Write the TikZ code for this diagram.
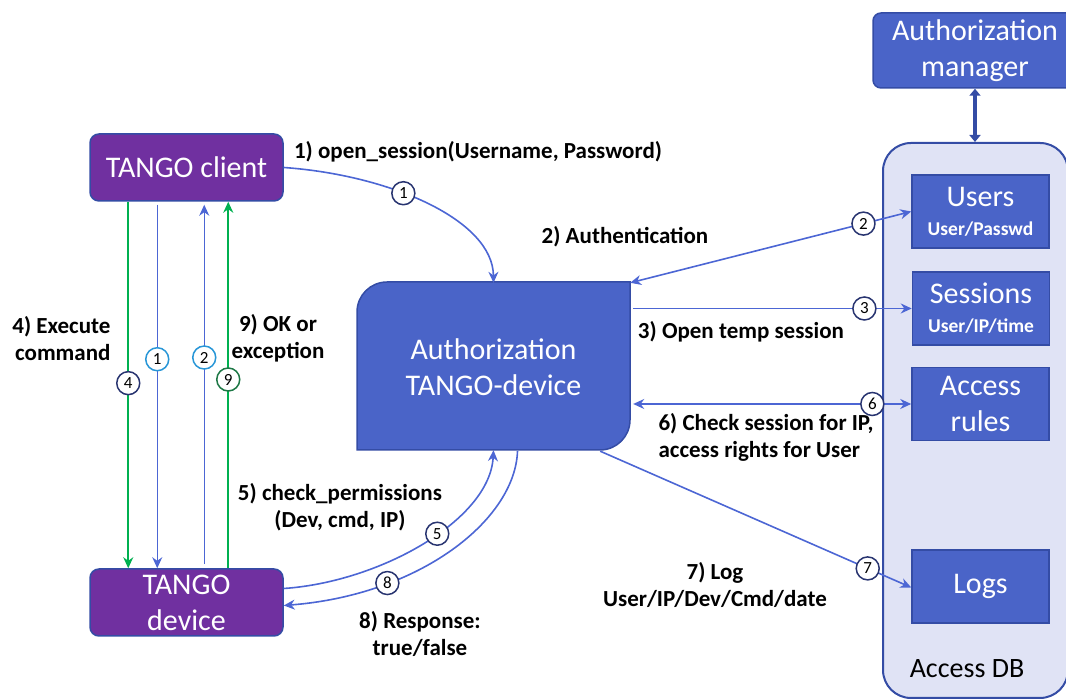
\documentclass[tikz,border=0pt]{standalone}
\usepackage{fontspec}
\setmainfont{Carlito}
\usetikzlibrary{arrows.meta,positioning,calc}
\definecolor{tangodev}{RGB}{112,48,160}
\definecolor{authfill}{RGB}{74,100,200}
\definecolor{authedge}{RGB}{52,76,165}
\definecolor{dbfill}{RGB}{224,227,245}
\definecolor{arrowblue}{RGB}{76,102,212}
\definecolor{okgreen}{RGB}{0,176,80}
\definecolor{navy}{RGB}{40,52,112}
\definecolor{sky}{RGB}{40,150,215}
\definecolor{darkgreen}{RGB}{30,120,70}
\tikzset{
 box/.style={draw=authedge, fill=authfill, line width=1.5pt, text=white, align=center,
             inner sep=0pt, font=\fontsize{30}{36}\selectfont},
 tango/.style={box, fill=tangodev, rounded corners=9pt, minimum width=193pt, minimum height=67pt},
 dbbox/.style={box, minimum width=137pt, minimum height=73pt},
 flow/.style={draw=arrowblue, line width=1.6pt, ->},
 thin flow/.style={draw=arrowblue, line width=1.2pt, ->},
 gflow/.style={draw=okgreen, line width=2.2pt, ->},
 lbl/.style={font=\bfseries\fontsize{23}{27}\selectfont, align=center},
 num/.style={circle, draw=navy, fill=white, line width=1.5pt, inner sep=0pt,
             minimum size=23pt, font=\fontsize{17}{17}\selectfont}
}

\begin{document}
\begin{tikzpicture}[x=1pt, y=1pt, >={Stealth[length=11pt,width=10pt]}]

\useasboundingbox (0,0) rectangle (1066,700);
\clip (0,0) rectangle (1066,700);

% access database
\node[draw=authedge, fill=dbfill, line width=2pt, rounded corners=28pt,
      minimum width=185pt, minimum height=555pt] (accessdb) at (975.5,279.5) {};
\node[font=\fontsize{28}{32}\selectfont] (dblabel) at (967,31) {Access DB};
\node[box, rounded corners=8pt, minimum width=204pt, minimum height=75pt] (manager) at (975,649.5) {Authorization\\manager};

\node[dbbox] (users) at (980.5,488.5) {Users\\[-7pt]{\bfseries\fontsize{19.5}{21}\selectfont User/Passwd}};
\node[dbbox] (sessions) at (981,391.5) {Sessions\\[-7pt]{\bfseries\fontsize{19.5}{21}\selectfont User/IP/time}};
\node[dbbox] (rules) at (980.5,296) {Access\\rules};
\node[dbbox] (logs) at (980.5,113.5) {Logs};

\draw[line width=3.5pt, draw=authedge, {Triangle[length=7pt,width=11pt]}-{Triangle[length=7pt,width=11pt]}]
  (manager.south) -- (manager.south |- accessdb.north);

% authorization device
\draw[box] (357,250) -- (357,388) arc[start angle=180,end angle=90,radius=30]
  -- (630,418) -- (630,280) arc[start angle=0,end angle=-90,radius=30] -- cycle;
\node[text=white, align=center, font=\fontsize{30}{36}\selectfont, minimum width=273pt,
      minimum height=168pt, inner sep=0pt] (auth) at (493.5,333) {Authorization\\TANGO-device};

% tango client and device
\node[tango] (client) at (186.5,532.5) {TANGO client};
\node[tango] (device) at (186.5,97.5) {TANGO\\device};

\draw[gflow] ([xshift=39pt]client.south west) -- node[num, pos=.495] (n4) {4} ([xshift=39pt]device.north west);
\draw[thin flow] ([xshift=68pt,yshift=-3pt]client.south west) -- node[num, draw=sky, pos=.425] (n1a) {1} ([xshift=68pt]device.north west);
\draw[thin flow] ([xshift=115pt,yshift=4pt]device.north west) -- node[num, draw=sky, pos=.575] (n2a) {2} ([xshift=115pt,yshift=-3pt]client.south west);
\draw[gflow] ([xshift=139pt]device.north west) -- node[num, draw=darkgreen, pos=.515] (n9) {9} ([xshift=139pt]client.south west);

\node[lbl, align=right, anchor=east] (execute) at (114,361.5) {4) Execute\\command};
\node[lbl] (okexc) at (278,361.5) {9) OK or\\exception};

% connectors to the authorization device
\draw[flow] (client.east) .. controls (390,525) and (493,480) .. node[num, pos=.4] (n1) {1} (auth.north);
\node[lbl] (opensession) at (478,548) {1) open\_session(Username, Password)};

\draw[flow] ([yshift=14pt]device.east) .. controls (380,118) and (490,180) .. node[num, pos=.56] (n5) {5} ([yshift=1pt]auth.south);
\draw[flow] ([xshift=24pt]auth.south) .. controls (515,180) and (420,105) .. node[num, pos=.72] (n8) {8} ([yshift=-3pt]device.east);
\node[lbl] (checkperm) at (340,193) {5) check\_permissions\\(Dev, cmd, IP)};
\node[lbl] (response) at (420,66.5) {8) Response:\\true/false};

% connectors to the database
\draw[flow, <->] (auth.north east) -- node[num, pos=.83] (n2) {2} (users.west);
\node[lbl] (authn) at (625,463) {2) Authentication};
\draw[flow] ([xshift=3pt]auth.east |- sessions.west) -- node[num, pos=.83] (n3) {3} (sessions.west);
\node[lbl] (tempsession) at (741,368) {3) Open temp session};
\draw[flow, <->] ([xshift=3pt]auth.east |- rules.west) -- node[num, pos=.86] (n6) {6} (rules.west);
\node[lbl, align=left, anchor=west] (checksession) at (655,263) {6) Check session for IP,\\access rights for User};
\draw[flow] ([xshift=-30pt]auth.south east) -- node[num, pos=.86] (n7) {7} ([yshift=-1pt]logs.west);
\node[lbl] (logentry) at (715,115) {7) Log\\User/IP/Dev/Cmd/date};

\end{tikzpicture}
\end{document}
